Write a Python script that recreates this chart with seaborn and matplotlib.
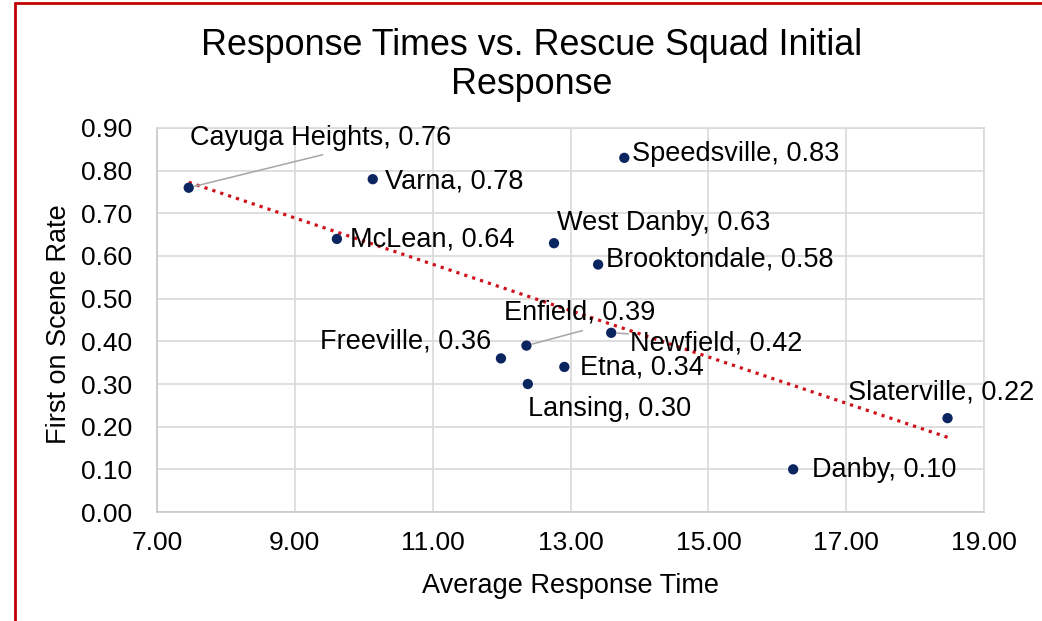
import matplotlib
matplotlib.use('Agg')
import matplotlib.pyplot as plt
import seaborn as sns
import pandas as pd
from matplotlib.lines import Line2D

# data
squads = ['Cayuga Heights', 'Varna', 'McLean', 'Speedsville', 'West Danby',
          'Brooktondale', 'Enfield', 'Newfield', 'Freeville', 'Etna',
          'Lansing', 'Slaterville', 'Danby']
response_time = [7.46, 10.13, 9.61, 13.78, 12.76, 13.40, 12.36, 13.59,
                 11.99, 12.91, 12.38, 18.47, 16.23]
first_on_scene = [0.76, 0.78, 0.64, 0.83, 0.63, 0.58, 0.39, 0.42,
                  0.36, 0.34, 0.30, 0.22, 0.10]

# label placement: offset in pixels from the point, horizontal alignment
label_pos = {
    'Cayuga Heights': (1, 50, 'left'),
    'Varna': (12, -2, 'left'),
    'McLean': (13, -1, 'left'),
    'Speedsville': (8, 4, 'left'),
    'West Danby': (3, 20, 'left'),
    'Brooktondale': (8, 5, 'left'),
    'Enfield': (-22, 33, 'left'),
    'Newfield': (19, -11, 'left'),
    'Freeville': (-10, 17, 'right'),
    'Etna': (16, -1, 'left'),
    'Lansing': (0, -25, 'left'),
    'Slaterville': (-100, 26, 'left'),
    'Danby': (19, -1, 'left'),
}

sns.set_style('white')
plt.rcParams['font.family'] = ['Liberation Sans', 'DejaVu Sans']
plt.rcParams['text.color'] = 'black'
plt.rcParams['axes.labelcolor'] = 'black'
plt.rcParams['xtick.color'] = 'black'
plt.rcParams['ytick.color'] = 'black'

df = pd.DataFrame({'squad': squads, 'time': response_time, 'rate': first_on_scene})

fig = plt.figure(figsize=(10.42, 6.21), dpi=100)
ax = fig.add_axes([0.1507, 0.1755, 0.7937, 0.6184])

sns.regplot(data=df, x='time', y='rate', scatter=False, ci=None, ax=ax,
            line_kws={'color': '#d0101a', 'linewidth': 2.3, 'linestyle': (0, (1, 1.6))})
sns.scatterplot(data=df, x='time', y='rate', ax=ax, color='#0b2560',
                s=55, edgecolor='none', zorder=3)

for name, x, y in zip(squads, response_time, first_on_scene):
    dx, dy, ha = label_pos[name]
    ax.annotate(f'{name}, {y:.2f}', xy=(x, y), xytext=(dx, dy),
                textcoords='offset pixels', ha=ha, va='center',
                fontsize=19.5, color='black', zorder=4)

# leader lines as in the reference
leaders = {
    'Cayuga Heights': (134, 33),
    'Enfield': (56, 15),
    'Newfield': (17, -1),
}
for name, (lx, ly) in leaders.items():
    i = squads.index(name)
    ax.annotate('', xy=(response_time[i], first_on_scene[i]), xytext=(lx, ly),
                textcoords='offset pixels',
                arrowprops=dict(arrowstyle='-', color='#a6a6a6', lw=1.1,
                                shrinkA=0, shrinkB=4))

ax.set_xlim(7, 19)
ax.set_ylim(0, 0.9)
ax.set_xticks([7, 9, 11, 13, 15, 17, 19])
ax.set_yticks([i / 10 for i in range(10)])
ax.xaxis.set_major_formatter(matplotlib.ticker.FormatStrFormatter('%.2f'))
ax.yaxis.set_major_formatter(matplotlib.ticker.FormatStrFormatter('%.2f'))
ax.tick_params(axis='both', length=0, labelsize=19)
ax.tick_params(axis='y', pad=18)
ax.tick_params(axis='x', pad=14)
ax.grid(True, color='#d9d9d9', linewidth=1.2)
ax.set_axisbelow(True)
for side in ['left', 'bottom', 'top', 'right']:
    ax.spines[side].set_visible(True)
    ax.spines[side].set_color('#d9d9d9')
    ax.spines[side].set_linewidth(1.2)
ax.spines['left'].set_color('#c8c8c8')
ax.spines['bottom'].set_color('#c8c8c8')

ax.set_xlabel('Average Response Time', fontsize=19.5)
ax.set_ylabel('First on Scene Rate', fontsize=19.5)
ax.xaxis.set_label_coords(0.5, -0.16)
ax.yaxis.set_label_coords(-0.103, 0.49)

fig.suptitle('Response Times vs. Rescue Squad Initial\nResponse',
             x=0.51, y=0.896, va='center', fontsize=25.8, linespacing=1.15,
             color='black')

# red frame on the left and top edges
fig.add_artist(Line2D([0.0147, 0.0147], [0.0, 0.995], color='#c00000', lw=2))
fig.add_artist(Line2D([0.0147, 1.0], [0.995, 0.995], color='#c00000', lw=2))

fig.savefig('out.png', dpi=100, facecolor='white')
